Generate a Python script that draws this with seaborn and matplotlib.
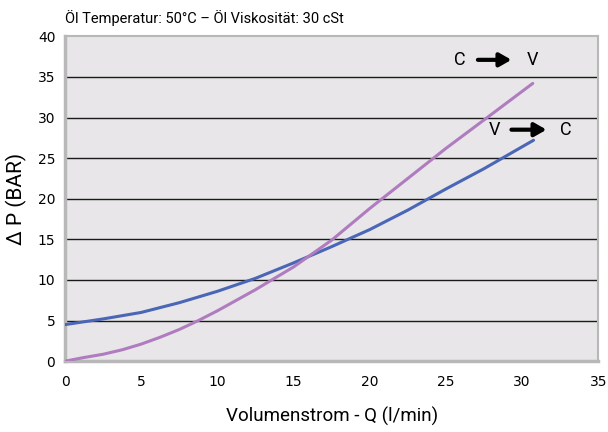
import matplotlib
matplotlib.use("Agg")
import matplotlib.pyplot as plt
import pandas as pd
import seaborn as sns

# blue curve: V -> C
q_vc = [0, 2.5, 5, 7.5, 10, 12.5, 15, 17.5, 20, 22.5, 25, 27.5, 30.75]
dp_vc = [4.5, 5.2, 6.0, 7.2, 8.6, 10.2, 12.1, 14.1, 16.2, 18.6, 21.2, 23.7, 27.2]

# purple curve: C -> V
q_cv = [0, 1.25, 2.5, 3.75, 5, 6.25, 7.5, 8.75, 10, 11.25, 12.5, 13.75, 15,
        17.5, 20, 22.5, 25, 27.5, 30.7]
dp_cv = [0, 0.45, 0.85, 1.4, 2.1, 2.95, 3.9, 5.0, 6.2, 7.5, 8.8, 10.2, 11.6,
         14.9, 18.8, 22.5, 26.2, 29.7, 34.2]

title = "Öl Temperatur: 50°C – Öl Viskosität: 30 cSt"
xlabel = "Volumenstrom - Q (l/min)"
ylabel = "\u0394 P (BAR)"

df_vc = pd.DataFrame({"q": q_vc, "dp": dp_vc})
df_cv = pd.DataFrame({"q": q_cv, "dp": dp_cv})

sns.set_style("white")
narrow = ["Roboto", "DejaVu Sans"]
plt.rcParams["font.family"] = ["DejaVu Sans"]
plt.rcParams["text.color"] = "black"

fig = plt.figure(figsize=(6.08, 4.32), dpi=100)
ax = fig.add_axes([0.107, 0.164, 0.877, 0.752])
ax.set_facecolor("#e8e6e8")

for y in range(5, 40, 5):
    ax.axhline(y, color="#1a1a1a", lw=1.0, zorder=1)

line_kw = dict(lw=2.2, zorder=3, solid_capstyle="round", solid_joinstyle="round")
sns.lineplot(data=df_vc, x="q", y="dp", ax=ax, color="#4a66b6", **line_kw)
sns.lineplot(data=df_cv, x="q", y="dp", ax=ax, color="#b07cc0", **line_kw)

ax.set_xlim(0, 35)
ax.set_ylim(0, 40)
ax.set_xticks(range(0, 36, 5))
ax.set_yticks(range(0, 41, 5))
ax.tick_params(axis="both", length=4, width=1, color="#888888", labelsize=10,
               labelcolor="black", pad=3)
ax.tick_params(axis="x", pad=6)
for s in ["top", "right"]:
    ax.spines[s].set_color("#b8b8b8")
    ax.spines[s].set_linewidth(1.5)
for s in ["left", "bottom"]:
    ax.spines[s].set_color("#b8b8b8")
    ax.spines[s].set_linewidth(2.5)

ax.set_xlabel(xlabel, fontsize=13.5, family=narrow, color="black", labelpad=13)
ax.set_ylabel(ylabel, fontsize=15, family=narrow, color="black", labelpad=8)
fig.text(0.107, 0.958, title, fontsize=10.5, family=narrow, va="center", ha="left")

arrow_kw = dict(arrowstyle="-|>,head_length=0.7,head_width=0.4", lw=3, color="black",
                shrinkA=0, shrinkB=0)

# direction labels
ax.text(25.9, 37.1, "C", fontsize=13, family=narrow, ha="center", va="center")
ax.annotate("", xy=(29.3, 37.1), xytext=(27.1, 37.1), arrowprops=arrow_kw)
ax.text(30.7, 37.1, "V", fontsize=13, family=narrow, ha="center", va="center")

ax.text(28.2, 28.5, "V", fontsize=13, family=narrow, ha="center", va="center")
ax.annotate("", xy=(31.6, 28.5), xytext=(29.3, 28.5), arrowprops=arrow_kw)
ax.text(32.9, 28.5, "C", fontsize=13, family=narrow, ha="center", va="center")

fig.savefig("out.png", dpi=100)
